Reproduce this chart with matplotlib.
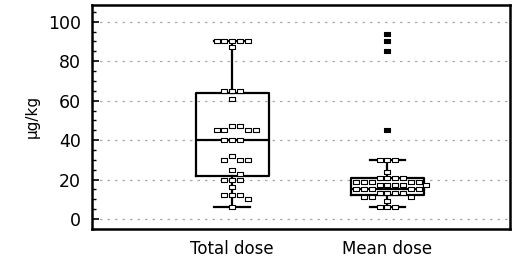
import numpy as np
import matplotlib.pyplot as plt
from matplotlib.ticker import MultipleLocator

plt.rcParams['font.family'] = ['DejaVu Sans']

# values (ug/kg)
total_dose = [90, 90, 90, 90, 90, 87, 65, 65, 65, 61, 47, 47, 45, 45, 45, 45,
              40, 40, 40, 32, 30, 30, 30, 25, 23, 20, 20, 20, 16, 12, 12, 12, 10, 6]
mean_dose = [30, 30, 30, 24, 21, 21, 21, 21, 19, 19, 19, 19, 19,
             17, 17, 17, 17, 17, 15, 15, 15, 15, 15, 13, 13, 13, 13,
             11, 11, 11, 9, 6, 6, 6]
mean_outliers = [94, 90, 85, 45]

# box summaries (q1, median, q3, whisker low, whisker high)
total_stats = (22, 40, 64, 6, 90)
mean_stats = (12, 15, 21, 6, 30)
labels = ['Total dose', 'Mean dose']

rect = [(-1.45, -1), (1.45, -1), (1.45, 1), (-1.45, 1), (-1.45, -1)]


def swarm(vals, dx=0.05, dy=2.3):
    # greedy beeswarm: nearest free slot around the centre line
    placed = []
    xs = []
    for v in vals:
        k = 0
        ok = None
        while ok is None:
            for c in ([0] if k == 0 else [k, -k]):
                x = c * dx
                if all(abs(x - px) >= dx * 0.99 or abs(v - py) >= dy for px, py in placed):
                    ok = x
                    break
            k += 1
        placed.append((ok, v))
        xs.append(ok)
    return np.array(xs)


fig = plt.figure(figsize=(5.2, 2.61), dpi=100)
ax = fig.add_axes([0.177, 0.123, 0.804, 0.858])

stats = []
for s, lab in zip([total_stats, mean_stats], labels):
    q1, med, q3, lo, hi = s
    stats.append(dict(q1=q1, med=med, q3=q3, whislo=lo, whishi=hi, fliers=[], label=lab))

lw = 1.6
ax.bxp(stats, positions=[1, 2], widths=0.47, showfliers=False,
       boxprops=dict(color='black', linewidth=lw),
       medianprops=dict(color='black', linewidth=lw),
       whiskerprops=dict(color='black', linewidth=lw),
       capprops=dict(color='black', linewidth=lw), capwidths=0.23, zorder=2)

for pos, vals in zip([1, 2], [total_dose, mean_dose]):
    vals = np.array(vals, dtype=float)
    ax.scatter(pos + swarm(vals), vals, marker=rect, s=16, facecolor='white',
               edgecolor='black', linewidth=0.8, zorder=3)

ax.scatter(np.full(len(mean_outliers), 2.0), mean_outliers, marker=rect, s=16,
           facecolor='black', edgecolor='black', linewidth=0.8, zorder=3)

ax.set_xlim(0.097, 2.79)
ax.set_ylim(-5, 108.5)
ax.yaxis.set_major_locator(MultipleLocator(20))
ax.yaxis.set_minor_locator(MultipleLocator(5))
ax.tick_params(axis='y', which='major', direction='in', length=5, width=1.2, labelsize=12.5, pad=8)
ax.tick_params(axis='y', which='minor', direction='in', length=3, width=1)
ax.tick_params(axis='x', length=0, labelsize=12, pad=8)
ax.set_xticks([1, 2])
ax.set_xticklabels(labels)
ax.set_ylabel('µg/kg', fontsize=11, labelpad=6)
ax.yaxis.grid(True, linestyle=(0, (2, 4)), color='#aaaaaa', linewidth=0.9)
ax.set_axisbelow(True)
for sp in ax.spines.values():
    sp.set_linewidth(1.8)

fig.savefig('out.png', dpi=100)
